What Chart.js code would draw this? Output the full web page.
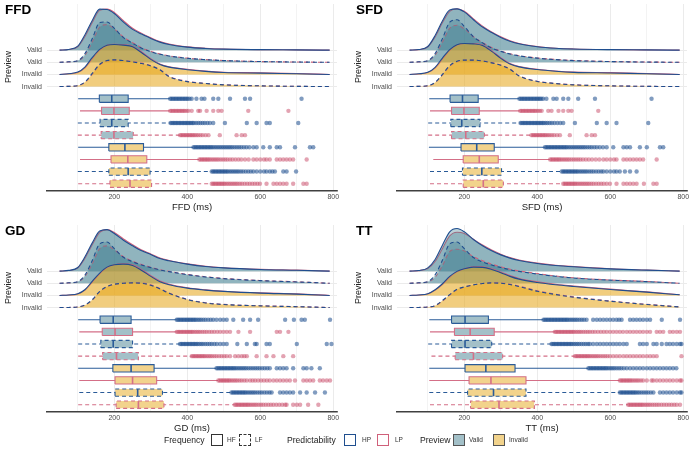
<!DOCTYPE html>
<html>
<head>
<meta charset="utf-8">
<script src="https://cdn.jsdelivr.net/npm/chart.js"></script>
<style>
  body { margin: 0; background: #fff; font-family: "Liberation Sans", Arial, sans-serif; }
  #wrap { position: relative; width: 700px; height: 458px; }
  .panel { position: absolute; width: 350px; height: 221px; }
  .ptitle { position: absolute; font-weight: bold; font-size: 13.5px; line-height: 16px; color: #000; }
  .ytitle { position: absolute; font-size: 9px; color: #222; transform: translate(-50%, -50%) rotate(-90deg); white-space: nowrap; }
  .lg { position: absolute; top: 434px; line-height: 12px; color: #222; white-space: nowrap; }
  .lgt { font-size: 8.6px; }
  .lgl { font-size: 6.5px; color: #333; }
  .key { position: absolute; top: 434px; width: 12px; height: 12px; box-sizing: border-box; }
</style>
</head>
<body>
<div id="wrap">
  <div class="panel" style="left:0;top:0"><canvas id="c1" width="350" height="221"></canvas></div>
  <div class="panel" style="left:350px;top:0"><canvas id="c2" width="350" height="221"></canvas></div>
  <div class="panel" style="left:0;top:221px"><canvas id="c3" width="350" height="221"></canvas></div>
  <div class="panel" style="left:350px;top:221px"><canvas id="c4" width="350" height="221"></canvas></div>

  <div class="ptitle" style="left:5px;top:2px">FFD</div>
  <div class="ptitle" style="left:356px;top:2px">SFD</div>
  <div class="ptitle" style="left:5px;top:223px">GD</div>
  <div class="ptitle" style="left:356px;top:223px">TT</div>
  <div class="ytitle" style="left:8px;top:67px">Preview</div>
  <div class="ytitle" style="left:358px;top:67px">Preview</div>
  <div class="ytitle" style="left:8px;top:288px">Preview</div>
  <div class="ytitle" style="left:358px;top:288px">Preview</div>

  <div class="lg lgt" style="left:164px">Frequency</div>
  <div class="key" style="left:211px;border:1px solid #333;"></div>
  <div class="lg lgl" style="left:227px">HF</div>
  <div class="key" style="left:239px;border:1px dashed #333;"></div>
  <div class="lg lgl" style="left:255px">LF</div>
  <div class="lg lgt" style="left:287px">Predictability</div>
  <div class="key" style="left:344px;border:1.2px solid #1f4e8f;"></div>
  <div class="lg lgl" style="left:362px">HP</div>
  <div class="key" style="left:377px;border:1.2px solid #d0607a;"></div>
  <div class="lg lgl" style="left:395px">LP</div>
  <div class="lg lgt" style="left:420px">Preview</div>
  <div class="key" style="left:453px;background:#a3c0c8;border:0.6px solid #555;"></div>
  <div class="lg lgl" style="left:469px">Valid</div>
  <div class="key" style="left:493px;background:#f2d38c;border:0.6px solid #555;"></div>
  <div class="lg lgl" style="left:509px">Invalid</div>
</div>

<script>
// ridge rows, top to bottom
const ridgePreview = ['Valid', 'Valid', 'Invalid', 'Invalid'];
const ridgeFreq = ['HF', 'LF', 'HF', 'LF'];
// box rows, top to bottom
const rowPreview = ['Valid', 'Valid', 'Valid', 'Valid', 'Invalid', 'Invalid', 'Invalid', 'Invalid'];
const rowFreq = ['HF', 'HF', 'LF', 'LF', 'HF', 'HF', 'LF', 'LF'];
const rowPred = ['HP', 'LP', 'HP', 'LP', 'HP', 'LP', 'HP', 'LP'];
const xGridTicks = [100, 200, 300, 400, 500, 600, 700, 800];

// density curves (ridge heights in row units) at these ms positions
const densityX = [50, 75, 100, 120, 140, 160, 180, 200, 225, 250, 275, 300, 325, 350, 400, 450, 500, 600, 700, 790];

const ffdDensHP = [
  [0, 0.06, 0.33, 1.29, 2.47, 3.38, 3.35, 3.02, 2.31, 1.71, 1.32, 0.96, 0.66, 0.47, 0.25, 0.14, 0.08, 0.04, 0.02, 0],
  [0, 0.04, 0.14, 0.74, 1.98, 3.27, 3.32, 2.8, 2.03, 1.57, 1.15, 0.88, 0.66, 0.52, 0.33, 0.22, 0.14, 0.06, 0.02, 0],
  [0, 0.06, 0.19, 0.63, 1.4, 2.06, 2.41, 2.47, 2.41, 2.28, 1.79, 1.24, 0.82, 0.6, 0.39, 0.25, 0.16, 0.11, 0.05, 0],
  [0, 0.02, 0.08, 0.39, 1.1, 1.84, 2.14, 2.2, 2.14, 2.03, 1.9, 1.7, 1.38, 0.82, 0.41, 0.25, 0.14, 0.06, 0.02, 0]
];
const ffdDensLP = [
  [0, 0.05, 0.28, 1.15, 2.3, 3.28, 3.38, 3.1, 2.42, 1.8, 1.38, 1.02, 0.7, 0.5, 0.27, 0.15, 0.09, 0.04, 0.02, 0],
  [0, 0.03, 0.12, 0.6, 1.7, 2.9, 3.1, 2.75, 2.08, 1.62, 1.2, 0.9, 0.68, 0.53, 0.34, 0.22, 0.14, 0.06, 0.02, 0],
  [0, 0.05, 0.16, 0.55, 1.3, 2.0, 2.4, 2.48, 2.45, 2.32, 1.85, 1.3, 0.86, 0.63, 0.42, 0.27, 0.18, 0.14, 0.08, 0],
  [0, 0.02, 0.07, 0.35, 1.02, 1.78, 2.1, 2.18, 2.15, 2.06, 1.93, 1.72, 1.4, 0.85, 0.43, 0.26, 0.15, 0.06, 0.02, 0]
];
const sfdDensHP = [
  [0, 0.05, 0.3, 1.2, 2.4, 3.3, 3.4, 3.15, 2.5, 1.9, 1.45, 1.05, 0.74, 0.52, 0.28, 0.15, 0.09, 0.04, 0.02, 0],
  [0, 0.04, 0.14, 0.72, 1.95, 3.3, 3.5, 2.95, 2.1, 1.6, 1.18, 0.9, 0.68, 0.53, 0.34, 0.22, 0.14, 0.06, 0.02, 0],
  [0, 0.05, 0.17, 0.58, 1.35, 2.05, 2.45, 2.55, 2.52, 2.38, 1.9, 1.32, 0.86, 0.62, 0.4, 0.26, 0.17, 0.12, 0.05, 0],
  [0, 0.02, 0.07, 0.35, 1.0, 1.72, 2.08, 2.18, 2.18, 2.1, 1.95, 1.75, 1.42, 0.88, 0.42, 0.25, 0.14, 0.06, 0.02, 0]
];
const sfdDensLP = [
  [0, 0.04, 0.26, 1.08, 2.25, 3.2, 3.4, 3.2, 2.58, 1.98, 1.5, 1.1, 0.78, 0.55, 0.3, 0.16, 0.1, 0.05, 0.02, 0],
  [0, 0.03, 0.12, 0.58, 1.65, 2.8, 3.05, 2.75, 2.1, 1.63, 1.22, 0.92, 0.7, 0.54, 0.35, 0.23, 0.15, 0.06, 0.02, 0],
  [0, 0.04, 0.15, 0.52, 1.25, 1.98, 2.42, 2.55, 2.55, 2.42, 1.96, 1.38, 0.9, 0.65, 0.43, 0.28, 0.19, 0.15, 0.08, 0],
  [0, 0.02, 0.06, 0.32, 0.95, 1.68, 2.05, 2.17, 2.18, 2.12, 1.98, 1.78, 1.45, 0.9, 0.44, 0.26, 0.15, 0.06, 0.02, 0]
];
const gdDensHP = [
  [0, 0.06, 0.3, 1.2, 2.35, 3.3, 3.42, 3.1, 2.55, 2.09, 1.67, 1.37, 1.04, 0.85, 0.58, 0.38, 0.27, 0.14, 0.07, 0],
  [0, 0.04, 0.14, 0.7, 1.9, 3.25, 3.4, 2.85, 2.14, 1.78, 1.51, 1.29, 1.1, 0.96, 0.71, 0.52, 0.38, 0.22, 0.11, 0],
  [0, 0.04, 0.14, 0.49, 1.18, 1.84, 2.33, 2.53, 2.58, 2.47, 2.06, 1.57, 1.13, 0.88, 0.6, 0.44, 0.33, 0.19, 0.11, 0],
  [0, 0.01, 0.05, 0.22, 0.66, 1.34, 1.73, 1.92, 2.0, 2.03, 2.0, 1.84, 1.54, 1.18, 0.66, 0.38, 0.25, 0.14, 0.07, 0]
];
const gdDensLP = [
  [0, 0.05, 0.26, 1.08, 2.2, 3.2, 3.42, 3.18, 2.65, 2.18, 1.74, 1.42, 1.08, 0.88, 0.6, 0.4, 0.28, 0.15, 0.08, 0],
  [0, 0.03, 0.12, 0.58, 1.62, 2.85, 3.08, 2.75, 2.18, 1.82, 1.55, 1.32, 1.12, 0.98, 0.73, 0.54, 0.4, 0.23, 0.12, 0],
  [0, 0.03, 0.12, 0.44, 1.1, 1.78, 2.3, 2.53, 2.6, 2.52, 2.12, 1.63, 1.18, 0.92, 0.63, 0.46, 0.35, 0.21, 0.13, 0],
  [0, 0.01, 0.05, 0.2, 0.62, 1.3, 1.7, 1.9, 2.0, 2.04, 2.02, 1.87, 1.57, 1.2, 0.68, 0.4, 0.26, 0.15, 0.08, 0]
];
const ttDensHP = [
  [0, 0.05, 0.27, 0.96, 2.14, 3.24, 3.51, 3.24, 2.61, 2.09, 1.67, 1.34, 1.07, 0.88, 0.63, 0.47, 0.36, 0.19, 0.08, 0],
  [0, 0.04, 0.14, 0.7, 1.9, 3.25, 3.4, 2.85, 2.12, 1.76, 1.5, 1.3, 1.12, 0.98, 0.76, 0.58, 0.43, 0.26, 0.14, 0],
  [0, 0.04, 0.14, 0.47, 0.96, 1.57, 1.98, 2.2, 2.33, 2.31, 2.14, 1.87, 1.57, 1.34, 1.07, 0.88, 0.74, 0.49, 0.27, 0.05],
  [0, 0.01, 0.05, 0.16, 0.58, 1.07, 1.51, 1.7, 1.87, 1.98, 2.03, 2.0, 1.9, 1.73, 1.34, 1.07, 0.85, 0.52, 0.25, 0.05]
];
const ttDensLP = [
  [0, 0.04, 0.22, 0.8, 1.85, 2.9, 3.2, 3.1, 2.62, 2.15, 1.74, 1.4, 1.12, 0.92, 0.66, 0.49, 0.38, 0.2, 0.09, 0],
  [0, 0.03, 0.1, 0.5, 1.45, 2.6, 2.8, 2.65, 2.2, 1.86, 1.58, 1.36, 1.16, 1.02, 0.8, 0.6, 0.45, 0.27, 0.15, 0],
  [0, 0.03, 0.12, 0.42, 0.9, 1.5, 1.94, 2.2, 2.35, 2.35, 2.2, 1.93, 1.63, 1.4, 1.12, 0.92, 0.77, 0.52, 0.29, 0.06],
  [0, 0.01, 0.04, 0.14, 0.54, 1.02, 1.46, 1.68, 1.86, 1.98, 2.05, 2.03, 1.94, 1.77, 1.38, 1.1, 0.88, 0.54, 0.27, 0.06]
];

// boxplot stats (ms), rows top to bottom
const ffdLo = [101, 106, 100, 100, 101, 106, 100, 101];
const ffdQ1 = [159, 165, 161, 164, 185, 191, 185, 188];
const ffdMed = [193, 199, 193, 199, 229, 237, 238, 243];
const ffdQ3 = [238, 241, 238, 252, 280, 289, 298, 302];
const ffdHi = [352, 352, 353, 379, 416, 432, 466, 466];
const ffdOut = [
  [353, 357, 361, 365, 369, 373, 377, 381, 385, 389, 393, 397, 401, 406, 412, 425, 439, 447, 471, 485, 517, 558, 572, 713],
  [353, 357, 361, 365, 369, 373, 377, 381, 385, 389, 393, 398, 403, 412, 430, 435, 453, 471, 485, 494, 567, 677],
  [354, 358, 362, 366, 370, 374, 378, 382, 386, 390, 394, 398, 402, 406, 410, 414, 418, 424, 430, 436, 442, 448, 455, 462, 471, 503, 563, 590, 617, 626, 704],
  [380, 384, 388, 392, 396, 400, 404, 408, 412, 416, 420, 425, 430, 436, 442, 450, 458, 489, 535, 549, 558],
  [417, 421, 425, 429, 433, 437, 441, 445, 449, 453, 457, 461, 465, 469, 474, 479, 484, 489, 494, 499, 504, 509, 514, 519, 524, 530, 536, 542, 548, 555, 562, 570, 581, 590, 608, 626, 645, 654, 695, 736, 745],
  [433, 437, 441, 445, 449, 453, 457, 461, 466, 471, 476, 481, 486, 492, 498, 504, 510, 517, 524, 532, 540, 548, 558, 568, 581, 590, 600, 610, 617, 626, 645, 654, 663, 672, 681, 690, 727],
  [467, 471, 475, 479, 483, 487, 491, 495, 499, 503, 507, 511, 516, 521, 526, 531, 536, 541, 547, 553, 560, 567, 574, 581, 590, 600, 610, 617, 626, 633, 640, 663, 672, 698],
  [467, 471, 475, 479, 483, 487, 491, 495, 499, 503, 508, 513, 518, 523, 528, 533, 538, 544, 550, 557, 564, 571, 578, 585, 592, 599, 617, 636, 645, 654, 663, 672, 690, 718, 727]
];

const sfdLo = [104, 106, 101, 101, 103, 115, 106, 106];
const sfdQ1 = [161, 165, 163, 165, 191, 197, 195, 197];
const sfdMed = [195, 199, 193, 204, 234, 241, 248, 252];
const sfdQ3 = [238, 241, 243, 255, 282, 293, 302, 307];
const sfdHi = [350, 352, 353, 383, 420, 434, 466, 470];
const sfdOut = [
  [351, 355, 359, 363, 367, 371, 375, 379, 383, 387, 391, 395, 399, 403, 407, 411, 416, 425, 444, 453, 471, 485, 512, 558, 713],
  [353, 357, 361, 365, 369, 373, 377, 381, 385, 389, 393, 397, 402, 407, 412, 430, 439, 458, 471, 485, 494, 567],
  [354, 358, 362, 366, 370, 374, 378, 382, 386, 390, 394, 398, 402, 406, 410, 414, 418, 423, 428, 434, 440, 447, 455, 463, 471, 503, 563, 590, 617, 704],
  [384, 388, 392, 396, 400, 404, 408, 412, 416, 420, 424, 429, 434, 440, 446, 454, 462, 489, 535, 549, 558],
  [421, 425, 429, 433, 437, 441, 445, 449, 453, 457, 461, 465, 469, 473, 477, 481, 486, 491, 496, 501, 506, 511, 516, 521, 526, 531, 537, 543, 549, 556, 563, 571, 580, 590, 608, 636, 645, 654, 681, 700, 736, 745],
  [435, 439, 443, 447, 451, 455, 459, 463, 468, 473, 478, 483, 488, 494, 500, 506, 512, 518, 525, 533, 541, 550, 560, 570, 581, 590, 600, 610, 617, 636, 645, 654, 663, 672, 681, 690, 727],
  [467, 471, 475, 479, 483, 487, 491, 495, 499, 503, 507, 511, 516, 521, 526, 531, 536, 542, 548, 554, 561, 568, 575, 581, 590, 600, 610, 617, 626, 640, 654, 672],
  [471, 475, 479, 483, 487, 491, 495, 499, 503, 507, 512, 517, 522, 527, 532, 537, 542, 548, 554, 561, 568, 575, 582, 590, 599, 617, 636, 645, 654, 663, 672, 692, 718, 727]
];

const gdLo = [101, 104, 101, 101, 101, 104, 104, 101];
const gdQ1 = [161, 167, 163, 168, 196, 202, 202, 205];
const gdMed = [197, 202, 197, 206, 246, 250, 264, 266];
const gdQ3 = [246, 250, 250, 266, 309, 316, 332, 336];
const gdHi = [370, 370, 379, 411, 479, 484, 520, 529];
const gdOut = [
  [371, 375, 379, 383, 387, 391, 395, 399, 403, 407, 411, 415, 419, 423, 428, 433, 438, 444, 450, 457, 464, 471, 480, 490, 499, 508, 526, 553, 572, 594, 668, 692, 713, 722, 791],
  [371, 375, 379, 383, 387, 391, 395, 399, 403, 407, 411, 415, 420, 425, 430, 435, 441, 447, 453, 460, 467, 474, 482, 490, 499, 508, 517, 540, 572, 645, 654, 677],
  [380, 384, 388, 392, 396, 400, 404, 408, 412, 416, 420, 424, 428, 433, 438, 443, 449, 455, 461, 467, 474, 481, 490, 499, 508, 537, 563, 585, 590, 617, 626, 700, 782, 795],
  [412, 416, 420, 424, 428, 432, 436, 440, 444, 448, 453, 458, 463, 468, 474, 480, 487, 494, 501, 508, 517, 531, 540, 549, 556, 563, 590, 617, 636, 663, 690],
  [480, 484, 488, 492, 496, 500, 504, 508, 512, 516, 520, 524, 528, 532, 537, 542, 547, 552, 557, 562, 568, 574, 580, 586, 592, 598, 605, 612, 619, 626, 645, 654, 663, 672, 690, 718, 727, 740, 763],
  [485, 489, 493, 497, 501, 505, 509, 513, 517, 522, 527, 532, 537, 543, 549, 556, 563, 572, 579, 586, 594, 602, 610, 618, 626, 636, 645, 654, 663, 672, 681, 695, 718, 727, 736, 745, 763, 772, 782, 791],
  [521, 525, 529, 533, 537, 541, 545, 549, 553, 557, 561, 566, 571, 576, 581, 586, 592, 598, 604, 611, 618, 625, 631, 654, 663, 672, 681, 690, 709, 727, 750, 777],
  [530, 534, 538, 542, 546, 550, 554, 558, 562, 566, 570, 575, 580, 585, 590, 596, 602, 608, 615, 622, 629, 636, 644, 652, 660, 668, 672, 690, 700, 709, 731, 759]
];

const ttLo = [104, 106, 101, 110, 104, 104, 104, 106];
const ttQ1 = [165, 173, 165, 175, 202, 213, 209, 217];
const ttMed = [202, 216, 202, 225, 259, 273, 280, 295];
const ttQ3 = [266, 282, 275, 305, 339, 369, 369, 392];
const ttHi = [416, 448, 438, 502, 539, 625, 625, 648];
const ttOut = [
  [417, 421, 425, 429, 433, 437, 441, 445, 449, 453, 457, 461, 465, 469, 473, 477, 481, 485, 490, 495, 500, 505, 510, 516, 522, 528, 535, 553, 563, 572, 581, 590, 599, 608, 617, 624, 631, 654, 663, 672, 681, 690, 700, 709, 741, 791],
  [448, 452, 456, 460, 464, 468, 472, 476, 480, 484, 488, 492, 496, 500, 505, 510, 515, 520, 526, 532, 538, 544, 551, 558, 566, 574, 582, 590, 599, 608, 617, 626, 635, 645, 654, 663, 672, 681, 690, 700, 709, 727, 736, 745, 763, 772, 782, 791],
  [439, 443, 447, 451, 455, 459, 463, 467, 471, 475, 479, 483, 487, 491, 495, 500, 505, 510, 515, 521, 527, 533, 539, 544, 553, 563, 572, 581, 590, 599, 608, 617, 626, 636, 645, 681, 690, 700, 718, 727, 741, 754, 763, 772, 782, 791, 795],
  [503, 507, 511, 515, 519, 523, 527, 531, 535, 539, 543, 548, 553, 558, 563, 568, 574, 580, 586, 592, 599, 608, 617, 626, 636, 645, 654, 663, 672, 681, 690, 700, 709, 718, 727, 795],
  [540, 544, 548, 552, 556, 560, 564, 568, 572, 576, 580, 584, 588, 592, 597, 602, 607, 612, 618, 624, 630, 637, 645, 654, 663, 672, 681, 690, 700, 709, 718, 727, 736, 745, 754, 763, 772, 781],
  [626, 630, 634, 638, 642, 646, 650, 654, 658, 663, 668, 673, 678, 684, 690, 700, 713, 718, 727, 736, 745, 754, 763, 772, 782, 791, 795],
  [626, 630, 634, 638, 642, 646, 650, 654, 658, 662, 666, 670, 675, 680, 686, 692, 698, 704, 711, 718, 736, 745, 754, 763, 772, 782, 791, 795],
  [649, 653, 657, 661, 665, 669, 673, 677, 681, 685, 689, 694, 699, 704, 709, 715, 721, 727, 733, 740, 747, 754, 761, 768, 775, 782, 791]
];

const panels = [
  { id: 'c1', xTitle: 'FFD (ms)', densHP: ffdDensHP, densLP: ffdDensLP, lo: ffdLo, q1: ffdQ1, med: ffdMed, q3: ffdQ3, hi: ffdHi, out: ffdOut },
  { id: 'c2', xTitle: 'SFD (ms)', densHP: sfdDensHP, densLP: sfdDensLP, lo: sfdLo, q1: sfdQ1, med: sfdMed, q3: sfdQ3, hi: sfdHi, out: sfdOut },
  { id: 'c3', xTitle: 'GD (ms)', densHP: gdDensHP, densLP: gdDensLP, lo: gdLo, q1: gdQ1, med: gdMed, q3: gdQ3, hi: gdHi, out: gdOut },
  { id: 'c4', xTitle: 'TT (ms)', densHP: ttDensHP, densLP: ttDensLP, lo: ttLo, q1: ttQ1, med: ttMed, q3: ttQ3, hi: ttHi, out: ttOut }
];

const lineColor = { HP: '#1f4e8f', LP: '#d0607a' };
const boxLine = { HP: '#2a5b98', LP: '#d46f87' };
const dotColor = { HP: 'rgba(26,74,140,0.55)', LP: 'rgba(200,72,102,0.5)' };
const ridgeFill = { Valid: 'rgba(63,126,143,0.35)', Invalid: 'rgba(232,168,32,0.35)' };
const boxFill = { Valid: '#a3c0c8', Invalid: '#f2d38c' };
const dashOf = f => (f === 'LF' ? [4, 3] : []);
const H = 0.3; // half box height in row units

Chart.defaults.font.family = '"Liberation Sans", Arial, sans-serif';

function makeChart(p) {
  const datasets = [];

  ridgePreview.forEach((pv, k) => {
    const base = 12 - k;
    [['LP', p.densLP[k]], ['HP', p.densHP[k]]].forEach(([pred, dens], j) => {
      datasets.push({
        data: densityX.map((x, i) => ({ x: x, y: base + dens[i] })),
        borderColor: lineColor[pred],
        borderWidth: 1.1,
        borderDash: dashOf(ridgeFreq[k]),
        backgroundColor: ridgeFill[pv],
        fill: { value: base },
        pointRadius: 0,
        cubicInterpolationMode: 'monotone',
        clip: false,
        order: 30 - 2 * k - j
      });
    });
  });

  rowPreview.forEach((pv, r) => {
    const y = 8 - r;
    const col = boxLine[rowPred[r]];
    const dash = dashOf(rowFreq[r]);
    const q1 = p.q1[r], q3 = p.q3[r], med = p.med[r];
    // whisker
    datasets.push({
      data: [{ x: p.lo[r], y: y }, { x: p.hi[r], y: y }],
      borderColor: col, borderWidth: 1.1, borderDash: dash, pointRadius: 0, fill: false, order: 5
    });
    // outliers
    datasets.push({
      data: p.out[r].map(v => ({ x: v, y: y })),
      showLine: false, pointRadius: 2.2, pointBorderWidth: 0,
      pointBackgroundColor: dotColor[rowPred[r]], order: 4
    });
    // box fill
    datasets.push({
      data: [{ x: q1, y: y - H }, { x: q3, y: y - H }],
      borderColor: 'rgba(0,0,0,0)', backgroundColor: boxFill[pv],
      fill: { value: y + H }, pointRadius: 0, order: 3
    });
    // box outline
    datasets.push({
      data: [{ x: q1, y: y - H }, { x: q3, y: y - H }, { x: q3, y: y + H }, { x: q1, y: y + H }, { x: q1, y: y - H }],
      borderColor: col, borderWidth: 1.1, borderDash: dash, pointRadius: 0, fill: false, order: 2
    });
    // median
    datasets.push({
      data: [{ x: med, y: y - H }, { x: med, y: y + H }],
      borderColor: col, borderWidth: 1.6, pointRadius: 0, fill: false, order: 1
    });
  });

  new Chart(document.getElementById(p.id), {
    type: 'line',
    data: { datasets: datasets },
    options: {
      responsive: false,
      animation: false,
      events: [],
      layout: { padding: { left: 0, right: 13, top: 4, bottom: 0 } },
      plugins: { legend: { display: false }, tooltip: { enabled: false } },
      scales: {
        x: {
          type: 'linear', min: 15.6, max: 810.1,
          afterBuildTicks: s => { s.ticks = xGridTicks.map(v => ({ value: v })); },
          afterFit: s => { s.height = 30; s.paddingLeft = 0; s.paddingRight = 0; },
          ticks: {
            callback: v => (v % 200 === 0 ? String(v) : ''),
            font: { size: 7 }, color: '#4d4d4d', padding: 2, maxRotation: 0, autoSkip: false
          },
          grid: {
            color: '#ebebeb', drawTicks: false,
            lineWidth: c => (c.tick && c.tick.value % 200 === 0 ? 1 : 0.6)
          },
          border: { display: true, color: '#404040', width: 1.6 },
          title: { display: true, text: p.xTitle, font: { size: 9.5 }, color: '#1a1a1a', padding: { top: 0, bottom: 8.3 } }
        },
        y: {
          type: 'linear', min: 0.4, max: 15.8,
          afterBuildTicks: s => { s.ticks = [9, 10, 11, 12].map(v => ({ value: v })); },
          afterFit: s => { s.width = 47; s.paddingTop = 0; s.paddingBottom = 0; },
          ticks: {
            callback: v => ridgePreview[12 - v],
            font: { size: 7 }, color: '#4d4d4d', padding: 5, autoSkip: false
          },
          grid: { color: '#ebebeb', lineWidth: 1, drawTicks: false },
          border: { display: false }
        }
      }
    }
  });
}

panels.forEach(makeChart);
</script>
</body>
</html>
